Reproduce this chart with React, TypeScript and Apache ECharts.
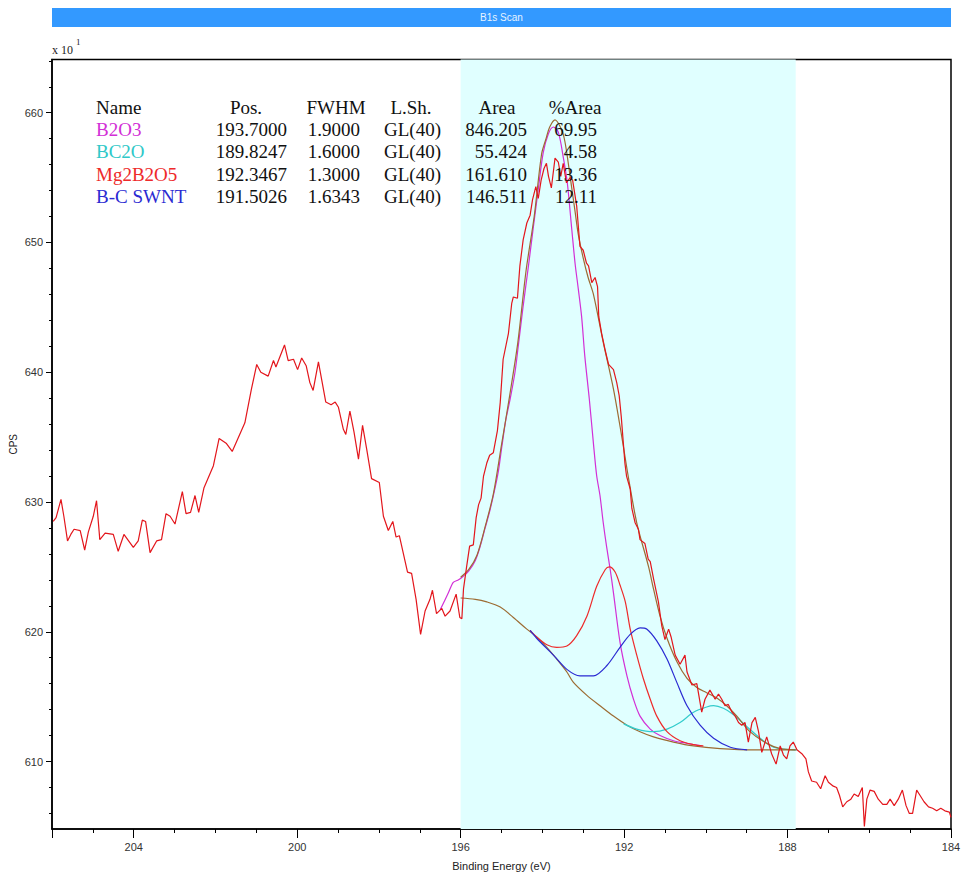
import React, { useEffect, useRef } from 'react';
import * as echarts from 'echarts';

// ---------- Data ----------
const rawEnergy = [
  205.97, 205.9, 205.78, 205.71, 205.62, 205.54, 205.46, 205.31, 205.2, 205.11,
  204.99, 204.91, 204.83, 204.7, 204.5, 204.38, 204.24, 204.01, 203.89, 203.79,
  203.71, 203.6, 203.44, 203.32, 203.21, 203.11, 202.99, 202.81, 202.72, 202.61,
  202.5, 202.41, 202.28, 202.05, 201.91, 201.73, 201.59, 201.28, 201.12, 200.99,
  200.89, 200.71, 200.58, 200.52, 200.31, 200.22, 200.09, 199.99, 199.89, 199.78,
  199.69, 199.61, 199.48, 199.3, 199.17, 199.07, 198.99, 198.87, 198.81, 198.71,
  198.61, 198.5, 198.4, 198.3, 198.18, 197.99, 197.89, 197.77, 197.66, 197.58,
  197.5, 197.3, 197.2, 197.09, 196.98, 196.87, 196.75, 196.69, 196.59, 196.46,
  196.38, 196.26, 196.11, 196.02, 195.97, 195.93, 195.85, 195.78, 195.69, 195.62,
  195.56, 195.5, 195.44, 195.36, 195.29, 195.2, 195.1, 195.03, 194.96, 194.83,
  194.75, 194.71, 194.61, 194.55, 194.47, 194.38, 194.3, 194.24, 194.16, 194.1,
  194.03, 193.96, 193.9, 193.85, 193.78, 193.69, 193.61, 193.55, 193.49, 193.41,
  193.32, 193.26, 193.16, 193.08, 193.0, 192.92, 192.87, 192.79, 192.71, 192.65,
  192.62, 192.55, 192.47, 192.38, 192.26, 192.18, 192.12, 192.07, 192.02, 191.98,
  191.94, 191.85, 191.81, 191.73, 191.65, 191.61, 191.49, 191.41, 191.36, 191.28,
  191.16, 191.08, 191.0, 190.91, 190.85, 190.75, 190.63, 190.51, 190.46, 190.34,
  190.22, 190.1, 190.02, 189.9, 189.77, 189.69, 189.61, 189.53, 189.45, 189.36,
  189.28, 189.2, 189.12, 189.04, 188.96, 188.87, 188.79, 188.71, 188.63, 188.51,
  188.39, 188.28, 188.18, 188.1, 188.02, 187.94, 187.86, 187.77, 187.65, 187.55,
  187.49, 187.41, 187.29, 187.19, 187.08, 187.0, 186.88, 186.8, 186.73, 186.65,
  186.55, 186.45, 186.37, 186.27, 186.17, 186.12, 186.06, 185.98, 185.88, 185.78,
  185.67, 185.57, 185.49, 185.39, 185.29, 185.19, 185.1, 185.02, 184.94, 184.84,
  184.76, 184.66, 184.55, 184.45, 184.35, 184.25, 184.15, 184.04, 184.0,
];
const rawCounts = [
  628.5, 628.8, 630.2, 628.9, 627.0, 627.5, 627.9, 627.8, 626.3, 627.7,
  628.9, 630.1, 627.1, 627.6, 627.5, 626.2, 627.5, 626.5, 627.0, 628.6,
  628.5, 626.1, 627.0, 627.1, 629.1, 628.9, 628.3, 630.8, 629.1, 629.2,
  630.5, 629.2, 631.1, 632.8, 634.9, 634.5, 633.9, 636.1, 638.7, 640.6,
  640.0, 639.7, 640.9, 640.4, 642.1, 640.9, 641.0, 640.2, 641.1, 640.5,
  639.2, 638.6, 640.8, 637.7, 637.5, 637.7, 637.3, 635.6, 635.2, 637.0,
  635.4, 633.3, 635.9, 634.1, 631.8, 631.5, 628.9, 627.8, 628.5, 627.3,
  627.4, 624.6, 624.5, 622.5, 619.8, 621.6, 622.5, 623.2, 621.4, 621.8,
  621.2, 621.6, 622.9, 621.1, 621.0, 623.3, 625.1, 626.6, 626.7, 628.8,
  629.8, 630.3, 632.0, 633.0, 633.6, 633.8, 635.5, 637.7, 641.0, 643.0,
  645.3, 645.8, 645.7, 648.2, 650.2, 651.5, 652.1, 653.3, 654.3, 653.4,
  654.8, 655.7, 656.1, 655.1, 654.2, 656.5, 656.2, 655.1, 656.1, 654.6,
  655.0, 654.8, 652.8, 649.7, 649.4, 648.4, 648.2, 646.9, 647.3, 646.6,
  644.3, 643.0, 641.8, 640.6, 640.2, 639.2, 638.2, 636.6, 634.6, 633.0,
  632.0, 631.0, 629.5, 628.4, 627.9, 627.1, 626.8, 625.6, 625.4, 624.1,
  622.3, 620.5, 619.4, 620.2, 619.6, 618.2, 617.5, 618.2, 616.9, 615.9,
  616.0, 613.8, 614.8, 615.5, 614.8, 615.2, 614.8, 614.3, 614.4, 613.8,
  613.5, 613.0, 612.8, 613.0, 611.5, 613.0, 613.4, 612.3, 610.7, 611.9,
  610.6, 609.8, 611.2, 610.5, 610.2, 611.2, 611.5, 610.9, 610.6, 610.2,
  609.2, 608.5, 608.4, 607.9, 608.9, 608.4, 608.1, 608.0, 607.4, 606.5,
  606.9, 607.1, 607.5, 607.3, 608.0, 605.0, 607.1, 607.8, 607.7, 607.1,
  606.7, 606.7, 607.1, 606.6, 607.1, 607.8, 606.6, 606.0, 606.0, 607.8,
  607.4, 606.9, 606.5, 606.4, 606.2, 606.4, 606.2, 606.1, 605.7,
];

const b2o3Energy = [
  196.5, 196.3, 196.18, 196.05, 195.93, 195.8, 195.64, 195.52, 195.4, 195.28,
  195.15, 195.07, 194.99, 194.89, 194.79, 194.67, 194.59, 194.47, 194.34, 194.22,
  194.1, 193.98, 193.85, 193.73, 193.61, 193.49, 193.39, 193.28, 193.2, 193.12,
  193.04, 192.96, 192.85, 192.75, 192.67, 192.59, 192.51, 192.43, 192.34, 192.26,
  192.1, 191.93, 191.77, 191.61, 191.36, 191.12, 190.79, 190.46, 190.1,
];
const b2o3Counts = [
  621.7, 623.0, 623.8, 624.0, 624.3, 624.7, 625.5, 626.6, 628.0, 629.4,
  631.2, 632.5, 634.3, 636.4, 637.9, 640.0, 642.0, 645.1, 648.2, 651.2,
  654.1, 656.9, 658.4, 658.9, 658.5, 656.6, 654.6, 651.0, 648.4, 646.4,
  644.3, 641.2, 637.9, 634.5, 632.0, 630.5, 628.4, 626.6, 624.8, 623.0,
  619.2, 616.6, 614.8, 613.5, 612.5, 612.0, 611.6, 611.4, 611.2,
];

const bc2oEnergy = [
  192.01, 191.69, 191.28, 190.95, 190.63, 190.3, 189.98, 189.81, 189.57, 189.32,
  189.0, 188.67, 188.34, 187.77,
];
const bc2oCounts = [
  612.9, 612.5, 612.3, 612.5, 613.0, 613.8, 614.2, 614.3, 614.1, 613.6,
  612.7, 611.8, 611.1, 610.9,
];

const mgEnergy = [
  194.3, 194.14, 193.89, 193.65, 193.4, 193.16, 192.91, 192.67, 192.46, 192.36,
  192.22, 192.1, 191.97, 191.85, 191.69, 191.53, 191.36, 191.2, 190.95, 190.63,
  190.3, 190.06,
];
const mgCounts = [
  620.1, 619.6, 619.0, 618.8, 618.9, 619.7, 621.2, 623.5, 624.8, 625.0,
  624.6, 623.6, 622.3, 620.2, 618.2, 616.4, 614.8, 613.5, 612.3, 611.6,
  611.3, 611.2,
];

const swntEnergy = [
  194.3, 194.14, 193.73, 193.4, 193.08, 192.75, 192.42, 192.1, 191.85, 191.61,
  191.44, 191.2, 190.95, 190.71, 190.46, 190.14, 189.81, 189.4, 188.99,
];
const swntCounts = [
  620.1, 619.5, 618.2, 617.1, 616.6, 616.6, 617.4, 618.8, 619.8, 620.3,
  620.2, 619.3, 617.9, 616.1, 614.3, 612.8, 611.8, 611.1, 610.9,
];

const bkgEnergy = [
  196.0, 195.64, 195.36, 195.03, 194.71, 194.38, 194.14, 193.89, 193.65, 193.4,
  193.24, 192.91, 192.59, 192.26, 191.93, 191.61, 191.28, 190.79, 190.3, 189.65,
  188.83, 187.8,
];
const bkgCounts = [
  622.6, 622.5, 622.3, 621.9, 621.1, 620.2, 619.6, 618.8, 617.9, 616.9,
  616.1, 615.1, 614.3, 613.5, 612.8, 612.3, 611.9, 611.5, 611.2, 611.0,
  610.9, 610.9,
];

const envEnergy = [
  196.0, 195.8, 195.6, 195.4, 195.2, 195.0, 194.8, 194.6, 194.4, 194.2,
  194.02, 193.91, 193.82, 193.69, 193.53, 193.45, 193.37, 193.29, 193.2, 193.12,
  193.0, 192.88, 192.75, 192.51, 192.26, 192.06, 191.9, 191.69, 191.4, 191.28,
  191.12, 190.95, 190.71, 190.46, 190.22, 189.98, 189.73, 189.49, 189.24, 188.92,
  188.51, 188.18, 187.8,
];
const envCounts = [
  624.2, 624.8, 625.9, 628.1, 630.6, 634.4, 638.2, 642.3, 647.8, 652.0,
  656.8, 658.0, 658.9, 659.45, 658.7, 657.8, 656.2, 654.4, 652.4, 650.6,
  648.8, 647.3, 646.0, 642.3, 638.7, 635.1, 632.0, 628.4, 625.0, 623.3,
  621.2, 619.5, 617.7, 616.4, 615.7, 615.3, 614.9, 614.3, 613.5, 612.3,
  611.4, 611.0, 610.9,
];

const regionStart = 196.0;
const regionEnd = 187.8;

// Axis ticks and labels
const xMin = 184;
const xMax = 206;
const yMin = 604.8;
const yMax = 664.1;
const yLabelValues = [610, 620, 630, 640, 650, 660];
const yMinorTickValues = [
  606, 608, 610, 612, 614, 616, 618, 620, 622, 624, 626, 628, 630, 632, 634,
  636, 638, 640, 642, 644, 646, 648, 650, 652, 654, 656, 658, 660, 662, 664,
];

const tableHeaders = ['Name', 'Pos.', 'FWHM', 'L.Sh.', 'Area', '%Area'];
const compNames = ['B2O3', 'BC2O', 'Mg2B2O5', 'B-C SWNT'];
const compPos = ['193.7000', '189.8247', '192.3467', '191.5026'];
const compFwhm = ['1.9000', '1.6000', '1.3000', '1.6343'];
const compShape = ['GL(40)', 'GL(40)', 'GL(40)', 'GL(40)'];
const compArea = ['846.205', '55.424', '161.610', '146.511'];
const compPct = ['69.95', '4.58', '13.36', '12.11'];
const compColors = ['#d22fd6', '#2fc8c8', '#ee2a2a', '#2a2ad2'];

const rawColor = '#e3161c';
const brown = '#9c6b32';

const pair = (xs: number[], ys: number[]) => xs.map((x, i) => [x, ys[i]]);

export default function App() {
  const ref = useRef<HTMLDivElement>(null);

  useEffect(() => {
    if (!ref.current) return;
    const chart = echarts.init(ref.current, null, { renderer: 'svg' });

    const serif = 'Liberation Serif';
    const sans = 'Liberation Sans';
    const fs = 19;

    const tableTexts: any[] = [];
    const headerY = 107;
    const rowY = [129.6, 151.8, 174, 196.2];
    const headerCfg = [
      { x: 96, align: 'left' },
      { x: 246, align: 'center' },
      { x: 336, align: 'center' },
      { x: 411, align: 'center' },
      { x: 497, align: 'center' },
      { x: 575, align: 'center' },
    ];
    tableHeaders.forEach((h, i) => {
      tableTexts.push({
        type: 'text', x: headerCfg[i].x, y: headerY, z: 50,
        style: { text: h, fill: '#111', font: `${fs}px "${serif}"`, textAlign: headerCfg[i].align, textVerticalAlign: 'middle' },
      });
    });
    compNames.forEach((n, r) => {
      const y = rowY[r];
      const cells = [
        { t: n, x: 96, a: 'left', c: compColors[r] },
        { t: compPos[r], x: 287, a: 'right', c: '#111' },
        { t: compFwhm[r], x: 360, a: 'right', c: '#111' },
        { t: compShape[r], x: 384, a: 'left', c: '#111' },
        { t: compArea[r], x: 527, a: 'right', c: '#111' },
        { t: compPct[r], x: 597, a: 'right', c: '#111' },
      ];
      cells.forEach((cell) => {
        tableTexts.push({
          type: 'text', x: cell.x, y, z: 50,
          style: { text: cell.t, fill: cell.c, font: `${fs}px "${serif}"`, textAlign: cell.a, textVerticalAlign: 'middle' },
        });
      });
    });

    const compSeries = (name: string, xs: number[], ys: number[], color: string) => ({
      name, type: 'line', data: pair(xs, ys), symbol: 'none', smooth: 0.3,
      lineStyle: { color, width: 1.2 }, silent: true, z: 3,
    });

    const option: any = {
      animation: false,
      grid: {
        left: 52, right: 12, top: 59.5, bottom: 46, show: true, borderColor: '#000', borderWidth: 1.5,
        containLabel: false, outerBoundsMode: 'none',
      },
      xAxis: [
        {
          type: 'value', min: xMin, max: xMax, inverse: true, interval: 1, position: 'bottom',
          axisLine: { show: true, lineStyle: { color: '#000', width: 1.5 } },
          axisTick: { show: true, length: 4, lineStyle: { color: '#000', width: 1 } },
          axisLabel: { show: false }, splitLine: { show: false },
        },
        {
          type: 'value', min: xMin, max: xMax, inverse: true, interval: 4, position: 'bottom',
          axisLine: { show: false },
          axisTick: { show: true, length: 9, lineStyle: { color: '#000', width: 1 } },
          axisLabel: {
            show: true, margin: 12, color: '#333', fontFamily: sans, fontSize: 11,
            formatter: (v: number) => (Math.abs(v % 4) < 1e-6 ? String(v) : ''),
          },
          splitLine: { show: false },
          name: 'Binding Energy (eV)', nameLocation: 'middle', nameGap: 31, nameMoveOverlap: false,
          nameTextStyle: { color: '#222', fontFamily: sans, fontSize: 11 },
        },
      ],
      yAxis: [
        {
          type: 'value', min: yMin, max: yMax, position: 'left',
          axisLine: { show: true, lineStyle: { color: '#000', width: 1.5 } },
          axisTick: { show: true, length: 3, customValues: yMinorTickValues, lineStyle: { color: '#000', width: 1 } },
          axisLabel: { show: false }, splitLine: { show: false },
        },
        {
          type: 'value', min: yMin, max: yMax, position: 'left',
          axisLine: { show: false },
          axisTick: { show: true, length: 6, customValues: yLabelValues, lineStyle: { color: '#000', width: 1 } },
          axisLabel: {
            show: true, margin: 9, color: '#333', fontFamily: sans, fontSize: 11,
            customValues: yLabelValues,
          },
          splitLine: { show: false },
          name: 'CPS', nameLocation: 'middle', nameRotate: 90, nameGap: 34, nameMoveOverlap: false,
          nameTextStyle: { color: '#222', fontFamily: sans, fontSize: 10 },
        },
      ],
      series: [
        {
          name: 'Background', type: 'line', data: pair(bkgEnergy, bkgCounts), symbol: 'none', smooth: 0.3,
          lineStyle: { color: brown, width: 1.2 }, silent: true, z: 2,
          markArea: {
            silent: true,
            itemStyle: { color: '#e0ffff' },
            data: [[{ xAxis: regionStart }, { xAxis: regionEnd }]],
          },
        },
        compSeries('B2O3', b2o3Energy, b2o3Counts, '#d22fd6'),
        compSeries('BC2O', bc2oEnergy, bc2oCounts, '#33cccc'),
        compSeries('Mg2B2O5', mgEnergy, mgCounts, '#ee2a2a'),
        compSeries('B-C SWNT', swntEnergy, swntCounts, '#2a2ad2'),
        {
          name: 'Envelope', type: 'line', data: pair(envEnergy, envCounts), symbol: 'none', smooth: 0.3,
          lineStyle: { color: brown, width: 1.2 }, silent: true, z: 4,
        },
        {
          name: 'Raw', type: 'line', data: pair(rawEnergy, rawCounts), symbol: 'none',
          lineStyle: { color: rawColor, width: 1.2 }, silent: true, z: 5,
        },
      ],
      graphic: [
        { type: 'rect', shape: { x: 52, y: 8, width: 899, height: 19 }, style: { fill: '#3399ff' }, z: 10 },
        {
          type: 'text', x: 501.5, y: 17.5, z: 11,
          style: { text: 'B1s Scan', fill: '#e6f3ff', font: `10px "${sans}"`, textAlign: 'center', textVerticalAlign: 'middle' },
        },
        {
          type: 'text', x: 52, y: 44, z: 11,
          style: { text: 'x 10', fill: '#222', font: `12px "${serif}"`, textAlign: 'left', textVerticalAlign: 'top' },
        },
        {
          type: 'text', x: 76, y: 37, z: 11,
          style: { text: '1', fill: '#222', font: `9px "${serif}"`, textAlign: 'left', textVerticalAlign: 'top' },
        },
        ...tableTexts,
      ],
    };

    chart.setOption(option);
    return () => chart.dispose();
  }, []);

  return (
    <div
      ref={ref}
      style={{ position: 'fixed', left: 0, top: 0, width: 963, height: 875, background: '#fff' }}
    />
  );
}
